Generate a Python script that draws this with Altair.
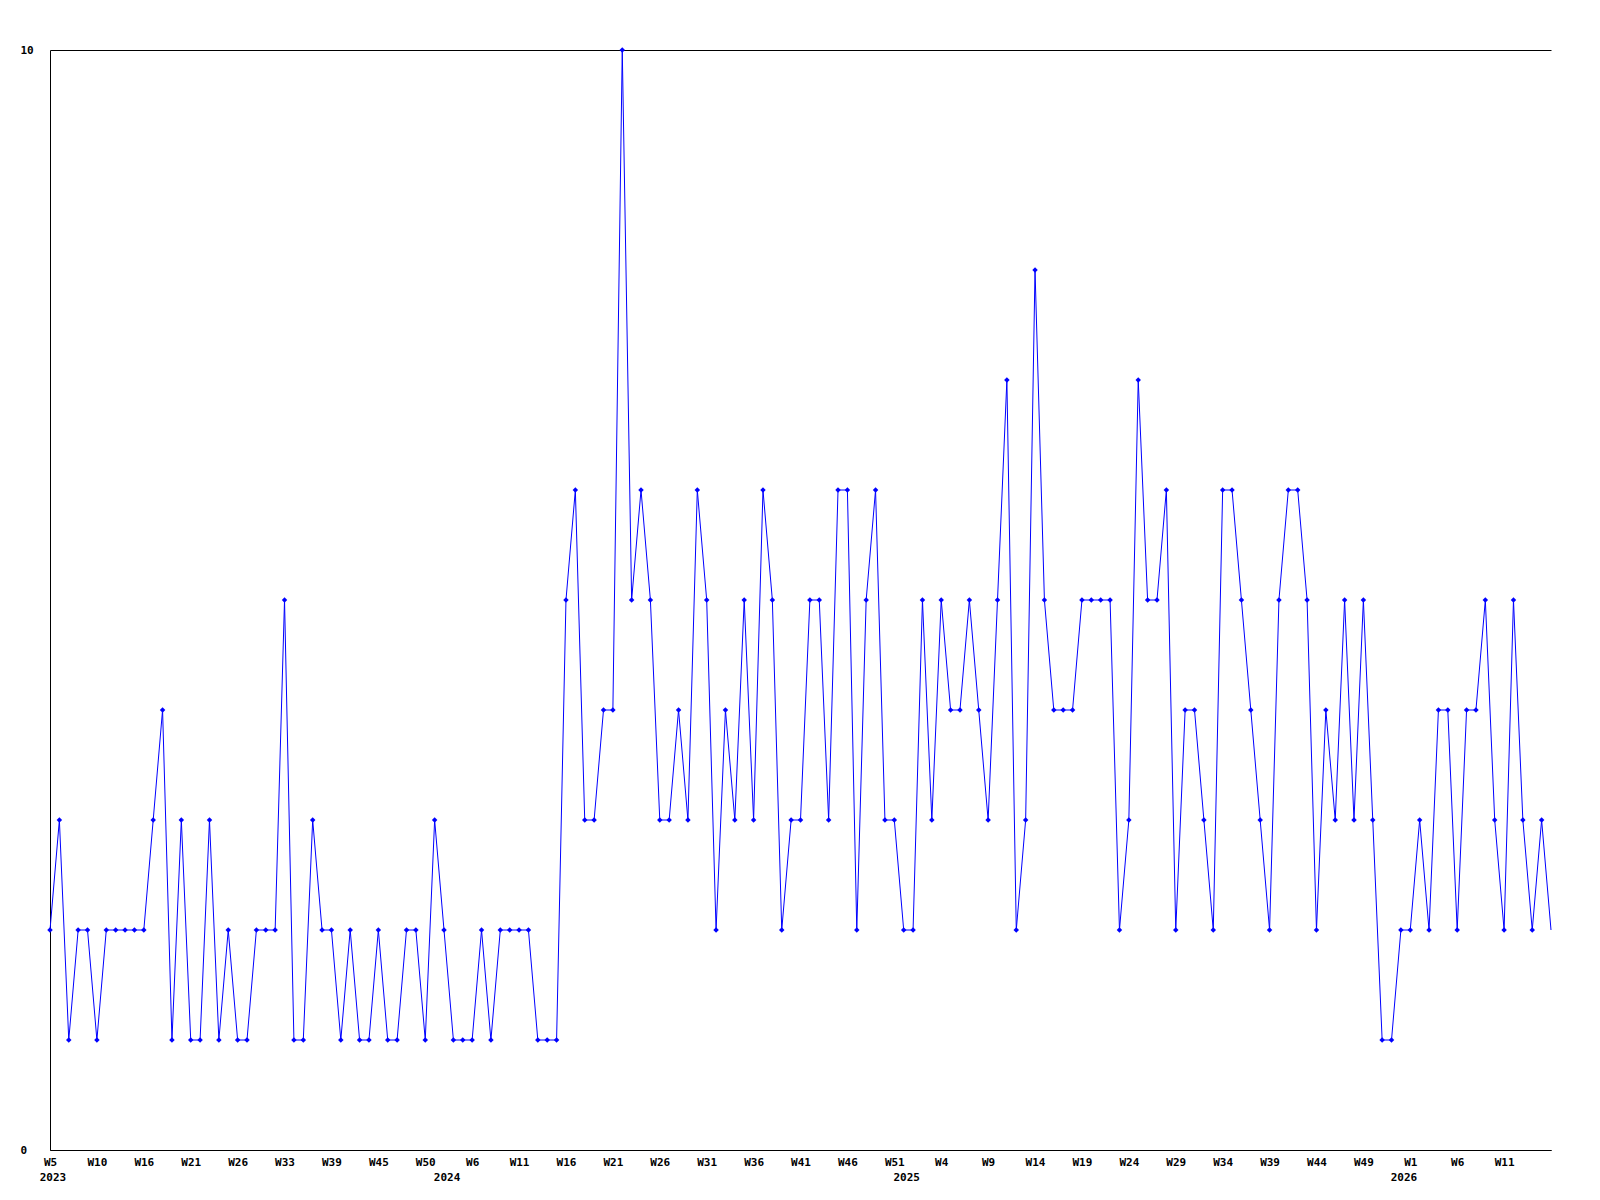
import altair as alt
import pandas as pd

# weekly counts, one per plotted week (in order)
values = [
    2, 3, 1, 2, 2, 1, 2, 2, 2, 2, 2, 3, 4, 1, 3, 1, 1, 3, 1, 2, 1, 1, 2, 2, 2, 5, 1, 1, 3, 2, 2, 1,
    2, 1, 1, 2, 1, 1, 2, 2, 1, 3, 2, 1, 1, 1, 2, 1, 2, 2, 2, 2, 1, 1, 1, 5,
    6, 3, 3, 4, 4, 10, 5, 6, 5, 3, 3, 4, 3, 6, 5, 2, 4, 3, 5, 3, 6, 5, 2, 3, 3, 5, 5,
    3, 6, 6, 2, 5, 6, 3, 3, 2, 2, 5, 3, 5, 4, 4, 5, 4, 3, 5, 7, 2, 3, 8, 5, 4, 4, 4,
    5, 5, 5, 5, 2, 3, 7, 5, 5, 6, 2, 4, 4, 3, 2, 6, 6, 5, 4, 3, 2, 5, 6, 6, 5, 2, 4,
    3, 5, 3, 5, 3, 1, 1, 2, 2, 3, 2, 4, 4, 2, 4, 4, 5, 3, 2, 5, 3, 2, 3, 2,
]

# week tick labels, one every 5 plotted weeks
week_labels = [
    "W5", "W10", "W16", "W21", "W26", "W33", "W39", "W45", "W50",
    "W6", "W11", "W16", "W21", "W26", "W31", "W36", "W41", "W46", "W51",
    "W4", "W9", "W14", "W19", "W24", "W29", "W34", "W39", "W44", "W49",
    "W1", "W6", "W11",
]
label_step = 5

# year labels and the plotted week where each year starts
year_labels = ["2023", "2024", "2025", "2026"]
year_index = [0, 42, 91, 144]

df = pd.DataFrame({"i": list(range(len(values))), "v": values})
df_marks = df.iloc[:-1]
df_years = pd.DataFrame({"i": year_index, "t": year_labels})

n = len(values) - 1
W, H = 1501, 1100
FONT = "DejaVu Sans Mono"

label_expr = "[" + ",".join("'%s'" % s for s in week_labels) + "][round(datum.value / %d)]" % label_step

xscale = alt.Scale(domain=[0, n], nice=False, zero=False, padding=0)
yscale = alt.Scale(domain=[0, 10], nice=False)

xaxis = alt.Axis(
    values=[k * label_step for k in range(len(week_labels))],
    labelExpr=label_expr,
    title=None,
    ticks=False,
    tickSize=0,
    grid=False,
    labelPadding=6,
    labelBaseline="top",
    labelAlign="center",
    labelOverlap=False,
    labelFlush=False,
    labelFont=FONT,
    labelFontWeight="bold",
    labelFontSize=11,
    labelColor="black",
    domainColor="black",
    domainWidth=1,
)
yaxis = alt.Axis(
    values=[0, 10],
    format="d",
    title=None,
    ticks=False,
    tickSize=0,
    grid=True,
    gridColor="black",
    gridOpacity=1,
    gridWidth=1,
    labelAlign="left",
    labelPadding=30,
    labelFont=FONT,
    labelFontWeight="bold",
    labelFontSize=11,
    labelColor="black",
    domainColor="black",
    domainWidth=1,
)

base = alt.Chart(df)

line = base.mark_line(color="#0000FF", strokeWidth=1).encode(
    x=alt.X("i:Q", scale=xscale, axis=xaxis),
    y=alt.Y("v:Q", scale=yscale, axis=yaxis),
)

pts = alt.Chart(df_marks).mark_point(
    shape="diamond", filled=True, color="#0000FF", size=30, opacity=1
).encode(
    x=alt.X("i:Q", scale=xscale),
    y=alt.Y("v:Q", scale=yscale),
)

years = alt.Chart(df_years).mark_text(
    font=FONT, fontWeight="bold", fontSize=11, color="black",
    baseline="top", align="center", dx=3,
).encode(
    x=alt.X("i:Q", scale=xscale),
    y=alt.value(H + 22),
    text="t:N",
)

chart = (
    alt.layer(line, pts, years)
    .properties(
        width=W,
        height=H,
        background="white",
        autosize=alt.AutoSizeParams(type="none"),
        padding={"left": 42, "top": 42, "right": 40, "bottom": 60},
    )
    .configure_view(stroke="transparent", strokeWidth=0)
)

chart.save("out.html", embed_options={"renderer": "svg", "actions": False})
